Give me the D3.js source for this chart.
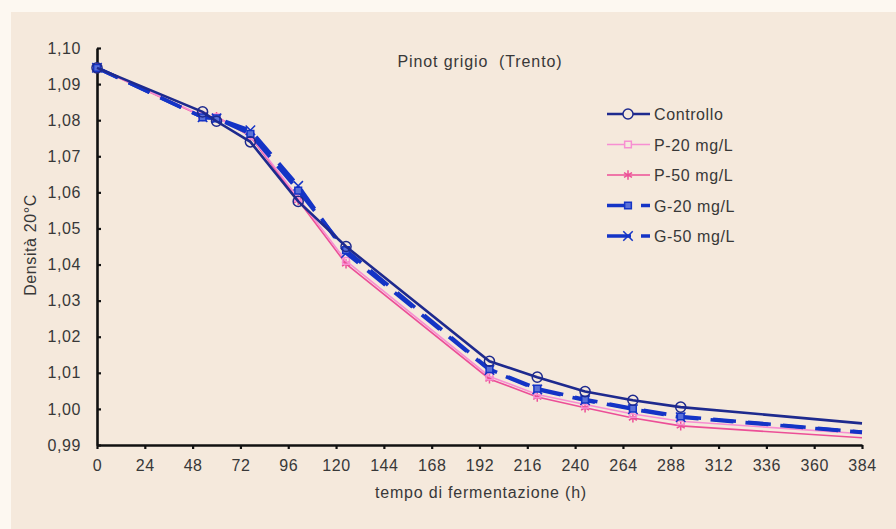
<!DOCTYPE html>
<html lang="it">
<head>
<meta charset="utf-8">
<title>Pinot grigio (Trento)</title>
<script src="https://cdnjs.cloudflare.com/ajax/libs/d3/7.8.5/d3.min.js"></script>
<style>
    body { margin: 0; background: #fdf8f1; }
    svg { display: block; }
    text { font-family: "Liberation Sans", Arial, sans-serif; fill: #383838; }
</style>
</head>
<body>
<script>

// ore di fermentazione
var hours = [0, 53, 60, 77, 101, 125, 197, 221, 245, 269, 293, 384];

// densità a 20°C per ciascuna tesi
var controllo = [1.0945, 1.0823, 1.0797, 1.0740, 1.0575, 1.0450, 1.0132, 1.0088, 1.0048, 1.0024, 1.0005, 0.9960];
var p20       = [1.0945, 1.0812, 1.0808, 1.0757, 1.0585, 1.0410, 1.0090, 1.0040, 1.0012, 0.9986, 0.9966, 0.9931];
var p50       = [1.0945, 1.0810, 1.0810, 1.0755, 1.0578, 1.0402, 1.0083, 1.0033, 1.0003, 0.9975, 0.9953, 0.9920];
var g20       = [1.0945, 1.0808, 1.0805, 1.0762, 1.0605, 1.0440, 1.0110, 1.0056, 1.0026, 1.0001, 0.9979, 0.9936];
var g50       = [1.0945, 1.0808, 1.0805, 1.0772, 1.0618, 1.0432, 1.0108, 1.0054, 1.0024, 0.9999, 0.9977, 0.9935];

var seriesNames = ["Controllo", "P-20 mg/L", "P-50 mg/L", "G-20 mg/L", "G-50 mg/L"];

var xTicks = [0, 24, 48, 72, 96, 120, 144, 168, 192, 216, 240, 264, 288, 312, 336, 360, 384];
var yTicks = [0.99, 1.00, 1.01, 1.02, 1.03, 1.04, 1.05, 1.06, 1.07, 1.08, 1.09, 1.10];

var width = 896, height = 529;

var svg = d3.select("body").append("svg")
    .attr("width", width)
    .attr("height", height);

// pannello beige
svg.append("rect")
    .attr("x", 11).attr("y", 12)
    .attr("width", width - 11).attr("height", height - 12)
    .attr("fill", "#f5e9dc");

var x = d3.scaleLinear().domain([0, 384]).range([97, 862]);
var y = d3.scaleLinear().domain([0.99, 1.10]).range([445, 48]);

var fmt = function (d) { return d3.format(".2f")(d).replace(".", ","); };

// assi
var xAxis = svg.append("g")
    .attr("transform", "translate(0,445)")
    .call(d3.axisBottom(x).tickValues(xTicks).tickSize(4).tickSizeOuter(0).tickPadding(11));

var yAxis = svg.append("g")
    .attr("transform", "translate(97,0)")
    .call(d3.axisLeft(y).tickValues(yTicks).tickFormat(fmt).tickSize(-4).tickSizeOuter(0).tickPadding(16));

[xAxis, yAxis].forEach(function (g) {
    g.select(".domain").attr("stroke", "#111").attr("stroke-width", 2.6);
    g.selectAll(".tick line").attr("stroke", "#111").attr("stroke-width", 2.2);
    g.selectAll(".tick text")
        .attr("fill", "#383838")
        .style("font-size", "16px")
        .style("font-family", "'Liberation Sans', Arial, sans-serif")
        .style("letter-spacing", "0.6px");
});

// definizione serie
var series = [
    { name: seriesNames[2], values: p50, color: "#ec4f97", width: 1.6, dash: null, symbol: d3.symbolAsterisk, size: 60, fill: "none" },
    { name: seriesNames[1], values: p20, color: "#f78fd2", width: 1.6, dash: null, symbol: d3.symbolSquare, size: 45, fill: "none" },
    { name: seriesNames[4], values: g50, color: "#1434c6", width: 3.6, dash: "23,12", symbol: d3.symbolTimes, size: 60, fill: "none" },
    { name: seriesNames[3], values: g20, color: "#1434c6", width: 3.6, dash: "23,12", symbol: d3.symbolSquare, size: 45, fill: "#5a70d8" },
    { name: seriesNames[0], values: controllo, color: "#1e2a8e", width: 2.6, dash: null, symbol: d3.symbolCircle, size: 80, fill: "none" }
];

var line = d3.line()
    .x(function (d) { return x(d[0]); })
    .y(function (d) { return y(d[1]); });

series.forEach(function (s) {
    var pts = hours.map(function (h, i) { return [h, s.values[i]]; });

    svg.append("path")
        .datum(pts)
        .attr("d", line)
        .attr("fill", "none")
        .attr("stroke", s.color)
        .attr("stroke-width", s.width)
        .attr("stroke-dasharray", s.dash);

    // marcatori (l'ultimo punto non ha simbolo)
    svg.append("g").selectAll("path")
        .data(pts.slice(0, pts.length - 1))
        .enter().append("path")
        .attr("transform", function (d) { return "translate(" + x(d[0]) + "," + y(d[1]) + ")"; })
        .attr("d", d3.symbol().type(s.symbol).size(s.size))
        .attr("fill", s.fill)
        .attr("stroke", s.color)
        .attr("stroke-width", 1.5);
});

// titolo
svg.append("text")
    .attr("x", 480).attr("y", 67)
    .attr("text-anchor", "middle")
    .style("font-size", "16px")
    .style("letter-spacing", "0.9px")
    .style("white-space", "pre")
    .text("Pinot grigio  (Trento)");

// titoli assi
svg.append("text")
    .attr("x", 481).attr("y", 498)
    .attr("text-anchor", "middle")
    .style("font-size", "16px")
    .style("letter-spacing", "0.8px")
    .text("tempo di fermentazione (h)");

svg.append("text")
    .attr("transform", "translate(36,245) rotate(-90)")
    .attr("text-anchor", "middle")
    .style("font-size", "16px")
    .style("letter-spacing", "0.6px")
    .text("Densità 20°C");

// legenda
var legendOrder = [4, 1, 0, 3, 2];
var legend = svg.append("g");

legendOrder.forEach(function (k, i) {
    var s = series[k];
    var ly = 114 + i * 30.5;
    var row = legend.append("g").attr("transform", "translate(0," + ly + ")");

    row.append("line")
        .attr("x1", 607).attr("x2", 650)
        .attr("stroke", s.color)
        .attr("stroke-width", s.width)
        .attr("stroke-dasharray", s.dash ? "24,10" : null);

    row.append("path")
        .attr("transform", "translate(628,0)")
        .attr("d", d3.symbol().type(s.symbol).size(s.size))
        .attr("fill", s.fill === "none" ? "#f5e9dc" : s.fill)
        .attr("stroke", s.color)
        .attr("stroke-width", 1.5);

    row.append("text")
        .attr("x", 654).attr("y", 6)
        .style("font-size", "16px")
        .style("letter-spacing", "0.6px")
        .text(s.name);
});

</script>
</body>
</html>
